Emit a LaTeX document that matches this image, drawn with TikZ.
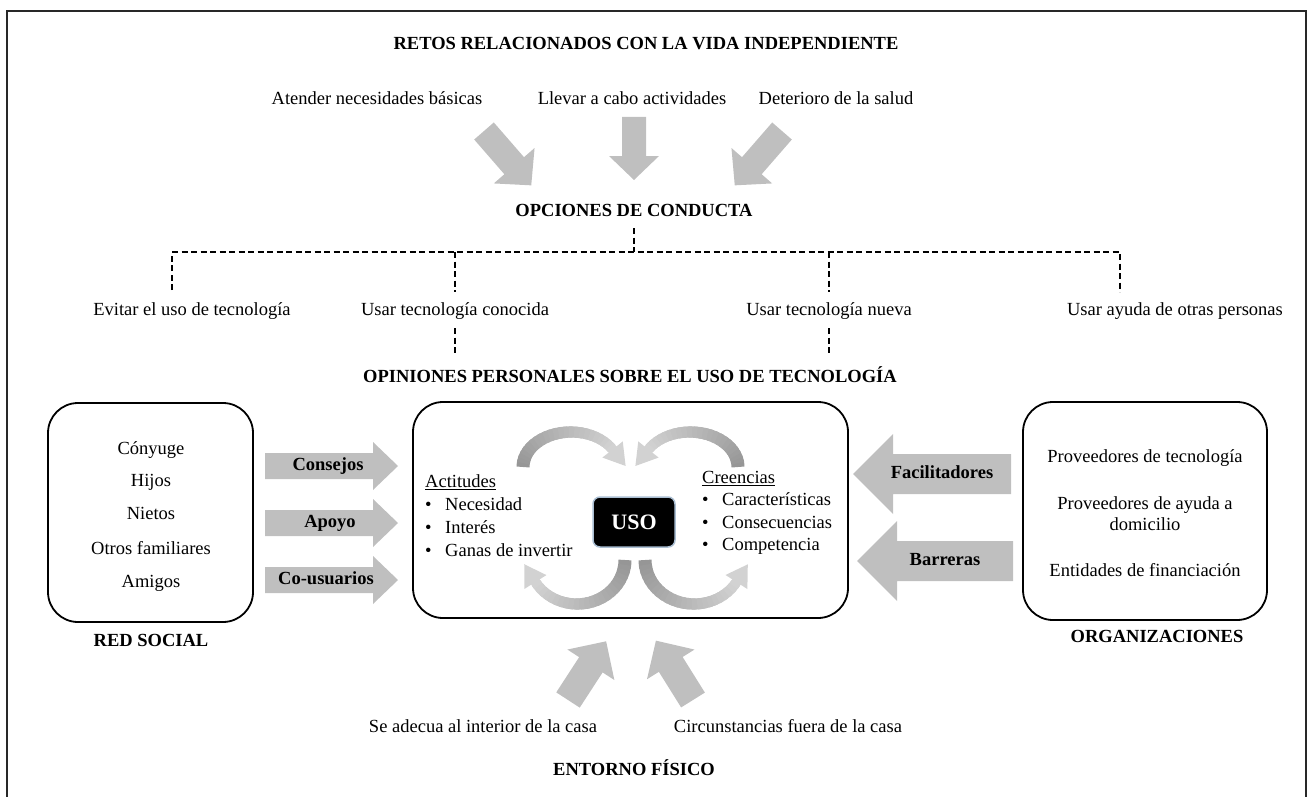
\documentclass[tikz,border=0pt]{standalone}
\usepackage{fontspec}
\setmainfont{Liberation Serif}
\usetikzlibrary{arrows.meta}
\definecolor{arrowgray}{RGB}{191,191,191}
\definecolor{cdark}{RGB}{150,150,150}
\definecolor{clight}{RGB}{210,210,210}
\definecolor{usoborder}{RGB}{170,190,210}
\definecolor{framecol}{RGB}{40,40,40}
\tikzset{
 txt/.style={font=\fontsize{18.5}{21}\selectfont, inner sep=0pt, align=center, text height=13pt, text depth=4pt},
 btxt/.style={font=\fontsize{18.5}{21}\selectfont\bfseries, inner sep=0pt, align=center, text height=13pt, text depth=4pt},
 rbox/.style={draw=black, line width=1.8pt, rounded corners=30pt},
 dline/.style={line width=2pt, dash pattern=on 6pt off 3.5pt},
}
% block arrow: tail x, tail y, canvas angle, length, shaft width, head width, head length
\newcommand{\blockarr}[7]{\fill[arrowgray,shift={(#1,#2)},rotate=#3] (0,{-#5/2}) -- ({#4-#7},{-#5/2}) -- ({#4-#7},{-#6/2}) -- (#4,0) -- ({#4-#7},{#6/2}) -- ({#4-#7},{#5/2}) -- (0,{#5/2}) -- cycle;}
% curved arrow along an ellipse: cx, cy, rx, ry, start angle, end angle
\newcommand{\curvarr}[6]{%
 \pgfmathsetmacro{\cvS}{(#6-#5)/24}%
 \foreach \k in {0,...,23}{%
  \pgfmathsetmacro{\cvA}{#5+\k*\cvS}%
  \pgfmathsetmacro{\cvB}{#5+(\k+1)*\cvS}%
  \pgfmathsetmacro{\cvC}{#5+(\k+1.7)*\cvS}%
  \pgfmathtruncatemacro{\cvP}{100-\k*100/23}%
  \pgfmathsetmacro{\cvL}{13-\k*3/23}%
  \draw[line width=\cvL pt, color={cdark!\cvP!clight}] ({#1+#3*cos(\cvA)},{#2+#4*sin(\cvA)}) -- ({#1+#3*cos(\cvB)},{#2+#4*sin(\cvB)}) -- ({#1+#3*cos(\cvC)},{#2+#4*sin(\cvC)});%
 }%
 \pgfmathsetmacro{\cvEx}{#1+#3*cos(#6)}%
 \pgfmathsetmacro{\cvEy}{#2+#4*sin(#6)}%
 \pgfmathsetmacro{\cvG}{ifthenelse(#6>#5,1,-1)}%
 \pgfmathsetmacro{\cvTx}{(-1)*(\cvG)*(#3)*sin(#6)}%
 \pgfmathsetmacro{\cvTy}{(\cvG)*(#4)*cos(#6)}%
 \pgfmathsetmacro{\cvTn}{sqrt((\cvTx)^2+(\cvTy)^2)}%
 \pgfmathsetmacro{\cvUx}{(\cvTx)/(\cvTn)}%
 \pgfmathsetmacro{\cvUy}{(\cvTy)/(\cvTn)}%
 \fill[clight] ({\cvEx-13*(\cvUy)},{\cvEy+13*(\cvUx)}) -- ({\cvEx+21*(\cvUx)},{\cvEy+21*(\cvUy)}) -- ({\cvEx+13*(\cvUy)},{\cvEy-13*(\cvUx)}) -- cycle;%
}
\begin{document}
\begin{tikzpicture}[x=1pt,y=-1pt]
\useasboundingbox (0,0) rectangle (1308,797);
% frame
\draw[framecol, line width=2.5pt] (7,805) -- (7,11) -- (1306,11) -- (1306,805);

% top section
\node[btxt] (retos) at (646,45) {RETOS RELACIONADOS CON LA VIDA INDEPENDIENTE};
\node[txt] (atender) at (377,100) {Atender necesidades básicas};
\node[txt] (llevar) at (632,100) {Llevar a cabo actividades};
\node[txt] (deterioro) at (836,100) {Deterioro de la salud};
\blockarr{484}{131}{-49}{72}{26}{54}{26}
\blockarr{634}{117}{-90}{63}{24}{50}{24}
\blockarr{782}{131}{-131}{72}{26}{54}{26}
\node[btxt] (opciones) at (634,212) {OPCIONES DE CONDUCTA};

% dashed tree
\coordinate (dtop) at (634,228);
\coordinate (djun) at (634,252);
\coordinate (dl) at (172,252);
\coordinate (dr) at (1120,252);
\coordinate (dm1) at (455,252);
\coordinate (dm2) at (829,252);
\draw[dline] (dtop) -- (djun);
\draw[dline] (dl |- 0,290) -- (dl) -- (dr) -- (dr |- 0,292);
\draw[dline] (dm1) -- (dm1 |- 0,292);
\draw[dline] (dm2) -- (dm2 |- 0,292);
\node[txt] (evitar) at (192,311) {Evitar el uso de tecnología};
\node[txt] (conocida) at (455,311) {Usar tecnología conocida};
\node[txt] (nueva) at (829,311) {Usar tecnología nueva};
\node[txt] (ayuda) at (1175,311) {Usar ayuda de otras personas};
\coordinate (c1a) at (455,328);
\coordinate (c1b) at (455,355);
\coordinate (c2a) at (829,328);
\coordinate (c2b) at (829,355);
\draw[dline] (c1a) -- (c1b);
\draw[dline] (c2a) -- (c2b);
\node[btxt] (opiniones) at (630,378) {OPINIONES PERSONALES SOBRE EL USO DE TECNOLOGÍA};

% boxes
\draw[rbox] (413,402) rectangle (848,618);
\draw[rbox] (48,403) rectangle (253,622);
\draw[rbox] (1023,402) rectangle (1267,620);

% left box
\node[txt] (conyuge) at (151,450) {Cónyuge};
\node[txt] (hijos) at (151,482) {Hijos};
\node[txt] (nietos) at (151,515) {Nietos};
\node[txt] (otros) at (151,550) {Otros familiares};
\node[txt] (amigos) at (151,583) {Amigos};
\node[btxt] (redsocial) at (151,642) {RED SOCIAL};

% right box
\node[txt] (provtec) at (1145,458) {Proveedores de tecnología};
\node[txt] (provay) at (1145,505) {Proveedores de ayuda a};
\node[txt] (domic) at (1145,526) {domicilio};
\node[txt] (entid) at (1145,572) {Entidades de financiación};
\node[btxt] (organiz) at (1157,638) {ORGANIZACIONES};

% left arrows
\blockarr{265}{466}{0}{133}{26}{48}{25}
\blockarr{265}{523}{0}{133}{26}{48}{25}
\blockarr{265}{580}{0}{133}{26}{48}{25}
\node[btxt] (consejos) at (328,466) {Consejos};
\node[btxt] (apoyo) at (330,523) {Apoyo};
\node[btxt] (cousu) at (326,580) {Co-usuarios};

% right arrows
\blockarr{1011}{474}{180}{158}{40}{80}{40}
\blockarr{1013}{561}{180}{156}{40}{80}{40}
\node[btxt] (facil) at (942,474) {Facilitadores};
\node[btxt] (barr) at (945,561) {Barreras};

% center content
\curvarr{571}{467}{48}{35}{180}{330}
\curvarr{690}{467}{48}{35}{360}{210}
\curvarr{577}{560}{48}{44}{0}{150}
\curvarr{694}{560}{49}{44}{180}{30}
\node[fill=black, draw=usoborder, line width=1.5pt, rounded corners=7pt, minimum width=82pt, minimum height=50pt, inner sep=0pt, text=white, font=\fontsize{22}{24}\selectfont\bfseries] (uso) at (634,522) {USO};
\node[txt, anchor=west] (actitudes) at (425,483) {\underline{Actitudes}};
\node[txt, anchor=west] (a1) at (425,506) {\makebox[20pt][l]{•}Necesidad};
\node[txt, anchor=west] (a2) at (425,529) {\makebox[20pt][l]{•}Interés};
\node[txt, anchor=west] (a3) at (425,552) {\makebox[20pt][l]{•}Ganas de invertir};
\node[txt, anchor=west] (creencias) at (702,479) {\underline{Creencias}};
\node[txt, anchor=west] (b1) at (702,501) {\makebox[20pt][l]{•}Características};
\node[txt, anchor=west] (b2) at (702,524) {\makebox[20pt][l]{•}Consecuencias};
\node[txt, anchor=west] (b3) at (702,546) {\makebox[20pt][l]{•}Competencia};

% bottom
\blockarr{568}{700}{57}{70}{28}{56}{28}
\blockarr{693}{700}{122}{70}{28}{56}{28}
\node[txt] (adecua) at (483,728) {Se adecua al interior de la casa};
\node[txt] (circ) at (788,728) {Circunstancias fuera de la casa};
\node[btxt] (entorno) at (634,771) {ENTORNO FÍSICO};
\end{tikzpicture}
\end{document}
